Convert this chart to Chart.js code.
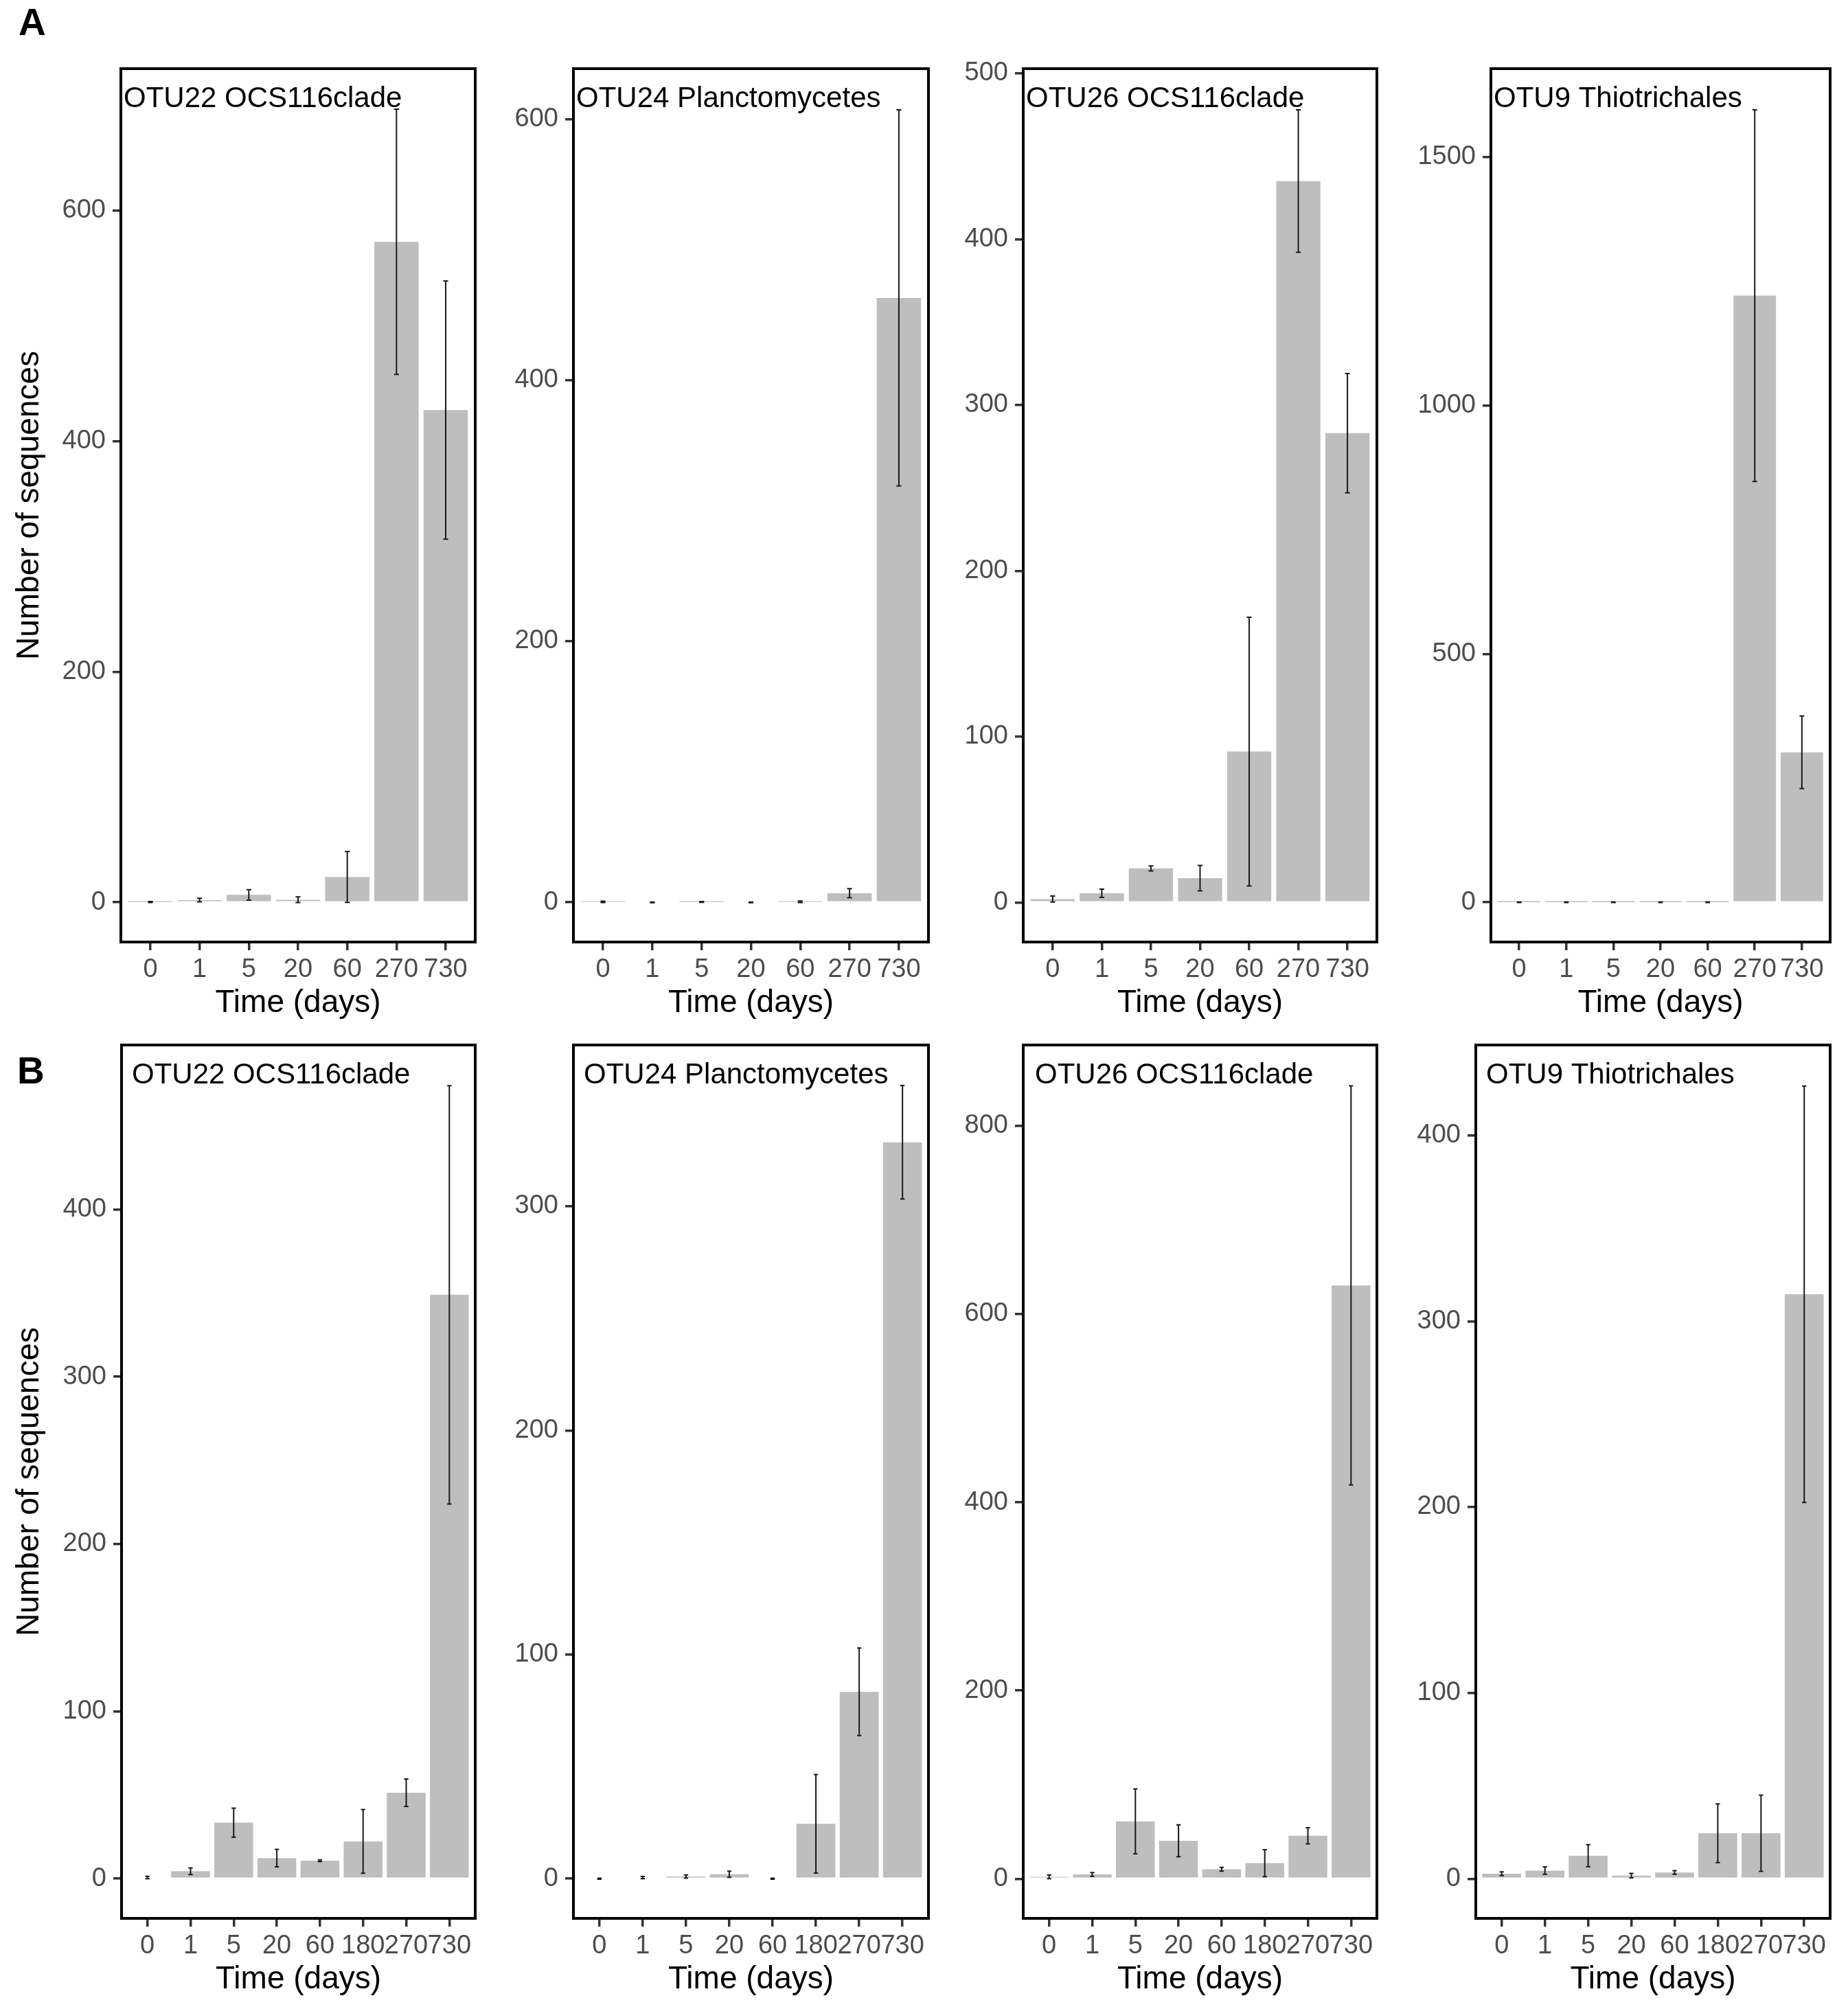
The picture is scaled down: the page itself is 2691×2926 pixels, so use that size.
<!DOCTYPE html>
<html><head><meta charset="utf-8">
<script src="https://cdn.jsdelivr.net/npm/chart.js@4.4.1/dist/chart.umd.min.js"></script>
<style>
html,body{margin:0;padding:0;background:#fff;}
body{width:2691px;height:2926px;position:relative;overflow:hidden;font-family:"Liberation Sans",Arial,sans-serif;}
canvas{position:absolute;}
.lab{position:absolute;font-weight:bold;font-size:55px;line-height:55px;color:#000;font-family:"Liberation Sans",Arial,sans-serif;}
</style></head><body>
<div class="lab" style="left:27px;top:5px">A</div>
<div class="lab" style="left:25px;top:1532px">B</div>
<script>
// ---------- DATA ----------
const categoriesA = ['0','1','5','20','60','270','730'];
const categoriesB = ['0','1','5','20','60','180','270','730'];

const titleOTU22 = 'OTU22 OCS116clade';
const titleOTU24 = 'OTU24 Planctomycetes';
const titleOTU26 = 'OTU26 OCS116clade';
const titleOTU9  = 'OTU9 Thiotrichales';

// Row A
const a22Mean = [0.3, 2, 6.5, 2.3, 22, 573, 427];
const a22Err  = [0.5, 1.5, 4.5, 2.5, 22, 115, 112];
const a24Mean = [0.4, 0, 0.3, 0, 0.4, 7, 463];
const a24Err  = [0.5, 0.3, 0.3, 0.3, 0.6, 3.5, 144];
const a26Mean = [2, 5.5, 20.5, 14.6, 91, 435, 283];
const a26Err  = [1.8, 2.5, 1.5, 7.7, 81, 43, 36];
const a9Mean  = [0.2, 0.2, 0.2, 0.2, 0.2, 1221, 302];
const a9Err   = [0.5, 0.5, 0.5, 0.5, 0.5, 374, 73];

// Row B
const b22Mean = [0.7, 4.5, 33.5, 12.3, 10.8, 22.3, 51.4, 349];
const b22Err  = [0.7, 2, 8.7, 5.2, 0.5, 19, 8.2, 125];
const b24Mean = [0, 0.5, 1, 2, 0, 24.5, 83.4, 328.6];
const b24Err  = [0.2, 0.5, 0.7, 1.4, 0.2, 22, 19.5, 25.3];
const b26Mean = [2, 4.6, 61, 40.4, 10, 16.6, 45.7, 630.5];
const b26Err  = [2, 2, 34.5, 17, 2, 14.3, 8.6, 212];
const b9Mean  = [2.7, 4.4, 12.4, 1.7, 3.4, 24.5, 24.5, 314.5];
const b9Err   = [1, 2, 5.9, 1.2, 1, 15.8, 20.5, 112];

// Tick labels (y)
const a22Ticks = [0, 200, 400, 600];
const a24Ticks = [0, 200, 400, 600];
const a26Ticks = [0, 100, 200, 300, 400, 500];
const a9Ticks  = [0, 500, 1000, 1500];
const b22Ticks = [0, 100, 200, 300, 400];
const b24Ticks = [0, 100, 200, 300];
const b26Ticks = [0, 200, 400, 600, 800];
const b9Ticks  = [0, 100, 200, 300, 400];

// Axis ranges
const a22Range = [-34.4, 723.2];
const a24Range = [-30.4, 638.6];
const a26Range = [-23.9, 502.8];
const a9Range  = [-79.9, 1677.8];
const b22Range = [-23.7, 498.3];
const b24Range = [-17.7, 372.0];
const b26Range = [-42.1, 886.0];
const b9Range  = [-21.3, 448.6];

const xTitle = 'Time (days)';
const yTitle = 'Number of sequences';

// ---------- LAYOUT ----------
const FONT = '"Liberation Sans", Arial, sans-serif';
Chart.defaults.font.family = FONT;

const panels = [
  {cats:categoriesA, mean:a22Mean, err:a22Err, ticks:a22Ticks, range:a22Range, title:titleOTU22, left:176, right:692, top:100, bottom:1372, yw:176, ytitle:true, tdx:4},
  {cats:categoriesA, mean:a24Mean, err:a24Err, ticks:a24Ticks, range:a24Range, title:titleOTU24, left:835, right:1352, top:100, bottom:1372, yw:130, tdx:4},
  {cats:categoriesA, mean:a26Mean, err:a26Err, ticks:a26Ticks, range:a26Range, title:titleOTU26, left:1490, right:2005, top:100, bottom:1372, yw:130, tdx:4},
  {cats:categoriesA, mean:a9Mean,  err:a9Err,  ticks:a9Ticks,  range:a9Range,  title:titleOTU9,  left:2171, right:2665, top:100, bottom:1372, yw:140, tdx:4},
  {cats:categoriesB, mean:b22Mean, err:b22Err, ticks:b22Ticks, range:b22Range, title:titleOTU22, left:177, right:692, top:1522, bottom:2794, yw:177, ytitle:true, tdx:15},
  {cats:categoriesB, mean:b24Mean, err:b24Err, ticks:b24Ticks, range:b24Range, title:titleOTU24, left:835, right:1352, top:1522, bottom:2794, yw:130, tdx:15},
  {cats:categoriesB, mean:b26Mean, err:b26Err, ticks:b26Ticks, range:b26Range, title:titleOTU26, left:1490, right:2005, top:1522, bottom:2794, yw:130, tdx:17},
  {cats:categoriesB, mean:b9Mean,  err:b9Err,  ticks:b9Ticks,  range:b9Range,  title:titleOTU9,  left:2149, right:2665, top:1522, bottom:2794, yw:130, tdx:15},
];

function makePanel(p) {
  const YW = p.yw, PADT = 12, PADR = 12, XH = 150;
  const cw = YW + (p.right - p.left) + PADR;
  const ch = PADT + (p.bottom - p.top) + XH;
  const cv = document.createElement('canvas');
  cv.width = cw; cv.height = ch;
  cv.style.left = (p.left - YW) + 'px';
  cv.style.top = (p.top - PADT) + 'px';
  cv.style.width = cw + 'px'; cv.style.height = ch + 'px';
  document.body.appendChild(cv);
  const n = p.cats.length;

  const errPlugin = {
    id: 'errbars',
    afterDatasetsDraw(chart) {
      const xs = chart.scales.x, ys = chart.scales.y, ctx = chart.ctx;
      const half = (xs.getPixelForValue(0.05) - xs.getPixelForValue(0));
      ctx.save();
      ctx.strokeStyle = '#1a1a1a';
      ctx.lineWidth = 2;
      p.mean.forEach((m, i) => {
        const e = p.err[i];
        const x = xs.getPixelForValue(i);
        const yt = ys.getPixelForValue(m + e);
        const yb = ys.getPixelForValue(m - e);
        ctx.beginPath();
        ctx.moveTo(x, yt); ctx.lineTo(x, yb);
        ctx.moveTo(x - half, yt); ctx.lineTo(x + half, yt);
        ctx.moveTo(x - half, yb); ctx.lineTo(x + half, yb);
        ctx.stroke();
      });
      ctx.restore();
    }
  };
  const framePlugin = {
    id: 'frame',
    afterDraw(chart) {
      const a = chart.chartArea, ctx = chart.ctx;
      ctx.save();
      ctx.strokeStyle = '#000';
      ctx.lineWidth = 4;
      ctx.strokeRect(a.left, a.top, a.right - a.left, a.bottom - a.top);
      ctx.fillStyle = '#000';
      ctx.font = '42px ' + FONT;
      ctx.textAlign = 'left';
      ctx.textBaseline = 'alphabetic';
      ctx.fillText(p.title, a.left + p.tdx, a.top + 56);
      ctx.restore();
    }
  };

  new Chart(cv, {
    type: 'bar',
    data: {
      datasets: [{
        data: p.mean.map((v, i) => ({x: i, y: v})),
        backgroundColor: '#BEBEBE',
        borderWidth: 0,
        barPercentage: 0.9,
        categoryPercentage: 1.0
      }]
    },
    options: {
      responsive: false, animation: false, devicePixelRatio: 1,
      layout: {padding: {top: PADT, right: PADR, left: 0, bottom: 0}},
      plugins: {legend: {display: false}, tooltip: {enabled: false}},
      scales: {
        x: {
          type: 'linear', min: -0.6, max: n - 0.4, offset: false,
          afterBuildTicks: ax => { ax.ticks = p.cats.map((c, i) => ({value: i})); },
          afterFit: ax => { ax.height = XH; ax.paddingLeft = 0; ax.paddingRight = 0; ax.paddingTop = 0; ax.paddingBottom = 0; },
          ticks: {
            callback: (v) => p.cats[Math.round(v)],
            color: '#4D4D4D', font: {size: 38, lineHeight: 1.2}, padding: 6,
            autoSkip: false, maxRotation: 0, minRotation: 0
          },
          grid: {offset: false, drawOnChartArea: false, drawTicks: true, tickLength: 12, color: '#333333', lineWidth: 3.5},
          border: {display: false},
          title: {display: true, text: xTitle, color: '#000', font: {size: 46, lineHeight: 1.2}, padding: {top: 0, bottom: 33}}
        },
        y: {
          min: p.range[0], max: p.range[1],
          afterBuildTicks: ax => { ax.ticks = p.ticks.map(v => ({value: v})); },
          afterFit: ax => { ax.width = YW; ax.paddingTop = 0; ax.paddingBottom = 0; ax.paddingLeft = 0; ax.paddingRight = 0; },
          ticks: {color: '#4D4D4D', font: {size: 38, lineHeight: 1.2}, padding: 10, callback: v => String(v)},
          grid: {drawOnChartArea: false, drawTicks: true, tickLength: 12, color: '#333333', lineWidth: 3.5},
          border: {display: false},
          title: p.ytitle ? {display: true, text: yTitle, color: '#000', font: {size: 46, lineHeight: 1.2}, padding: {top: 16, bottom: 0}} : {display: false}
        }
      }
    },
    plugins: [errPlugin, framePlugin]
  });
}
panels.forEach(makePanel);
</script>
</body></html>
